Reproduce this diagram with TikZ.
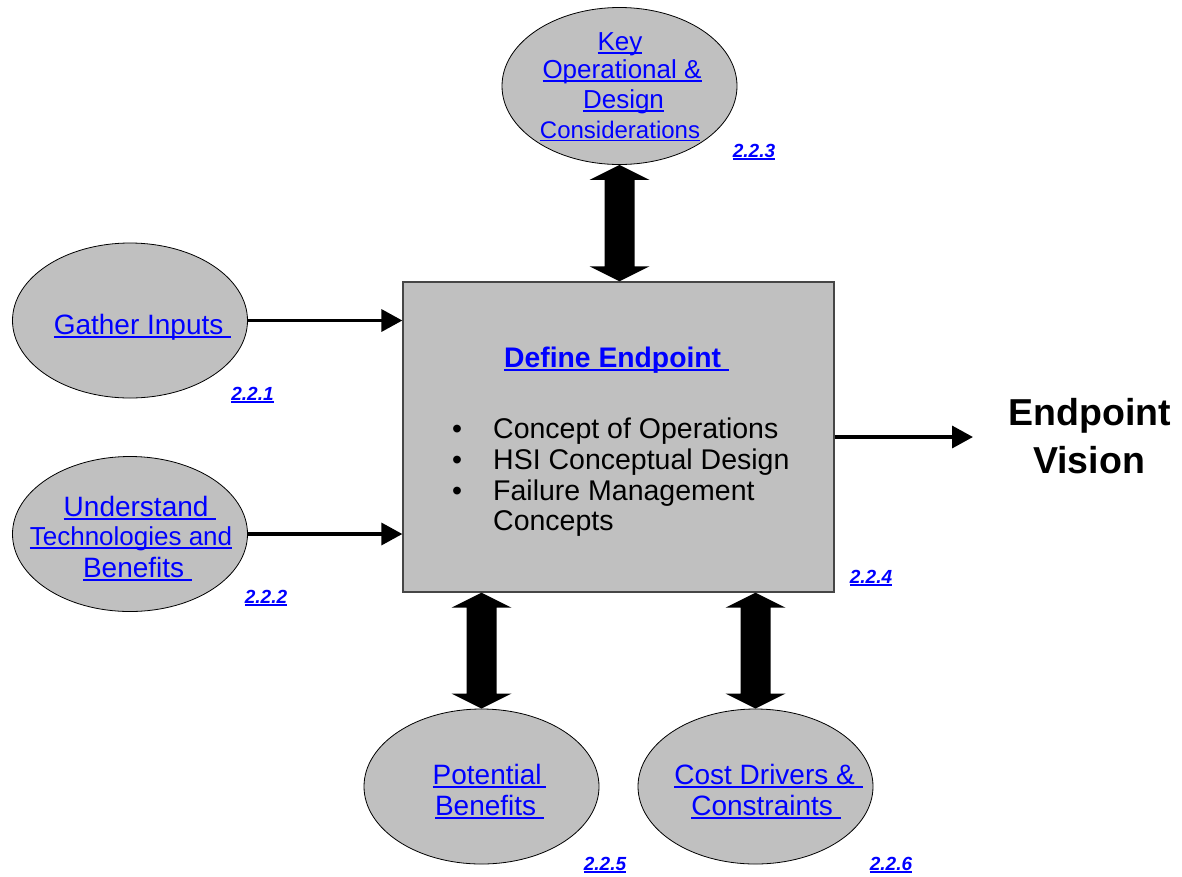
\documentclass[tikz,border=0pt]{standalone}
\usepackage{fontspec}
\setmainfont{Liberation Sans}
\usetikzlibrary{shapes.geometric,arrows.meta,calc}

\definecolor{panel}{RGB}{192,192,192}
\definecolor{linkblue}{RGB}{0,0,255}
\definecolor{frame}{RGB}{70,70,70}

% underlined hyperlink-style text
\newcommand\ulink[1]{\leavevmode\setbox0\hbox{#1}\rlap{\rule[-0.145em]{\wd0}{0.075em}}\box0}

% block double arrow between a top point and a bottom point
\newcommand\dblarrow[2]{%
  \fill[black] (#1) -- ($(#1)+(30,15)$) -- ($(#1)+(15,15)$) -- ($(#2)+(15,-15)$)
    -- ($(#2)+(30,-15)$) -- (#2) -- ($(#2)+(-30,-15)$) -- ($(#2)+(-15,-15)$)
    -- ($(#1)+(-15,15)$) -- ($(#1)+(-30,15)$) -- cycle;}

\begin{document}
\begin{tikzpicture}[x=1pt,y=-1pt,
  bubble/.style={ellipse, draw=black, line width=0.8pt, fill=panel, inner sep=0pt,
    minimum width=235pt, minimum height=155pt},
  ln/.style={text=linkblue, anchor=base, inner sep=0pt, font=\fontsize{28}{30}\selectfont},
  lnsmall/.style={ln, font=\fontsize{26}{30}\selectfont},
  refnum/.style={text=linkblue, anchor=base, inner sep=0pt,
    font=\fontsize{19}{19}\selectfont\bfseries\itshape},
  feed/.style={line width=3.5pt, -{Triangle[length=21pt,width=22pt]}},
]
\useasboundingbox (0,0) rectangle (1182,876);

% central process box
\node[draw=frame, line width=1.3pt, fill=panel, minimum width=431pt, minimum height=310pt,
      inner sep=0pt] (main) at (618.5,437) {};

% surrounding bubbles
\node[bubble, minimum height=157pt] (key) at (619.5,86) {};
\node[bubble] (gather) at (130,320.5) {};
\node[bubble] (tech) at (130,534) {};
\node[bubble] (pot) at (481.5,786.5) {};
\node[bubble] (cost) at (755.5,786.5) {};

% bubble texts, one node per line
\node[lnsmall] (key1) at (620,50) {\ulink{Key}};
\node[lnsmall] (key2) at (622,78) {\ulink{Operational \&}};
\node[lnsmall] (key3) at (623.5,108) {\ulink{Design}};
\node[ln, font=\fontsize{24}{28}\selectfont] (key4) at (620,138) {\ulink{Considerations}};

\node[ln] (gath1) at (142.5,334) {\ulink{Gather Inputs\ }};

\node[ln] (tech1) at (140,516) {\ulink{Understand\ }};
\node[lnsmall] (tech2) at (131,545) {\ulink{Technologies and}};
\node[ln] (tech3) at (137.5,577) {\ulink{Benefits\ }};

\node[ln] (pot1) at (489.5,784) {\ulink{Potential\,}};
\node[ln] (pot2) at (489.5,815) {\ulink{Benefits\ }};

\node[ln] (cost1) at (768.5,784) {\ulink{Cost Drivers \&\ }};
\node[ln] (cost2) at (766,815) {\ulink{Constraints\ }};

% section numbers
\node[refnum] (n3) at (754,157) {\ulink{2.2.3}};
\node[refnum] (n1) at (252.5,400) {\ulink{2.2.1}};
\node[refnum] (n2) at (266,603) {\ulink{2.2.2}};
\node[refnum] (n4) at (871,583) {\ulink{2.2.4}};
\node[refnum] (n5) at (605,870) {\ulink{2.2.5}};
\node[refnum] (n6) at (891,870) {\ulink{2.2.6}};

% box contents
\node[anchor=base west, inner sep=0pt, text=linkblue, font=\fontsize{28.3}{28}\selectfont\bfseries]
  (title) at (504,367) {\ulink{Define Endpoint\ }};
\begin{scope}[every node/.style={anchor=base west, inner sep=0pt, font=\fontsize{28.5}{28}\selectfont}]
  \node (b1) at (452,438) {•};
  \node (b2) at (452,469) {•};
  \node (b3) at (452,500) {•};
  \node (i1) at (493,438) {Concept of Operations};
  \node (i2) at (493,469) {HSI Conceptual Design};
  \node (i3) at (493,500) {Failure Management};
  \node (i4) at (493,530) {Concepts};
\end{scope}

% outcome
\node[anchor=base, inner sep=0pt, font=\fontsize{37.5}{48}\selectfont\bfseries]
  (vis1) at (1090,425) {Endpoint};
\node[anchor=base, inner sep=0pt, font=\fontsize{37.5}{48}\selectfont\bfseries]
  (vis2) at (1089,473) {Vision};

% connectors
\draw[feed] (gather.east) -- (main.west |- gather.east);
\draw[feed] (tech.east) -- (main.west |- tech.east);
\coordinate (vtip) at (973,437);
\draw[feed] (main.east) -- (vtip);

\dblarrow{key.south}{key.south |- main.north}
\coordinate (pa) at (pot.north |- main.south);
\coordinate (ca) at (cost.north |- main.south);
\dblarrow{pa}{pot.north}
\dblarrow{ca}{cost.north}
\end{tikzpicture}
\end{document}
